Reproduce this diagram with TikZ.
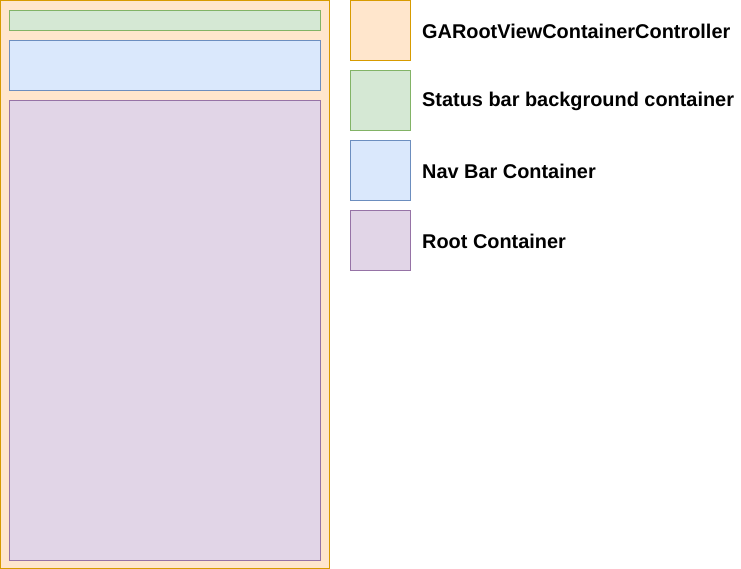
\documentclass[tikz,border=0pt]{standalone}
\usepackage{fontspec}
\setmainfont{Liberation Sans}
\definecolor{ofill}{HTML}{FFE6CC}\definecolor{oline}{HTML}{D79B00}
\definecolor{gfill}{HTML}{D5E8D4}\definecolor{gline}{HTML}{82B366}
\definecolor{bfill}{HTML}{DAE8FC}\definecolor{bline}{HTML}{6C8EBF}
\definecolor{pfill}{HTML}{E1D5E7}\definecolor{pline}{HTML}{9673A6}
\begin{document}
\begin{tikzpicture}[x=1pt,y=-1pt,
  box/.style={draw=#1line,fill=#1fill,line width=1pt},
  lbl/.style={anchor=west,font=\fontsize{19.9}{23}\selectfont\bfseries,inner sep=0pt}]
\useasboundingbox (0,0) rectangle (741,569);
\path[box=o] (0.5,0.5) rectangle (329.5,568.5) coordinate (outer);
\path[box=g] (9.5,10.5) rectangle (320.5,30.5);
\path[box=b] (9.5,40.5) rectangle (320.5,90.5);
\path[box=p] (9.5,100.5) rectangle (320.5,560.5);
\node[box=o,minimum width=60pt,minimum height=60pt,inner sep=0pt] (lo) at (380.5,30.5) {};
\node[box=g,minimum width=60pt,minimum height=60pt,inner sep=0pt] (lg) at (380.5,100.5) {};
\node[box=b,minimum width=60pt,minimum height=60pt,inner sep=0pt] (lb) at (380.5,170.5) {};
\node[box=p,minimum width=60pt,minimum height=60pt,inner sep=0pt] (lp) at (380.5,240.5) {};
\node[lbl] (to) at (422,31) {GARootViewContainerController};
\node[lbl] (tg) at (422,101) {Status bar background container};
\node[lbl] (tb) at (422,171) {Nav Bar Container};
\node[lbl] (tp) at (422,241) {Root Container};
\end{tikzpicture}
\end{document}
